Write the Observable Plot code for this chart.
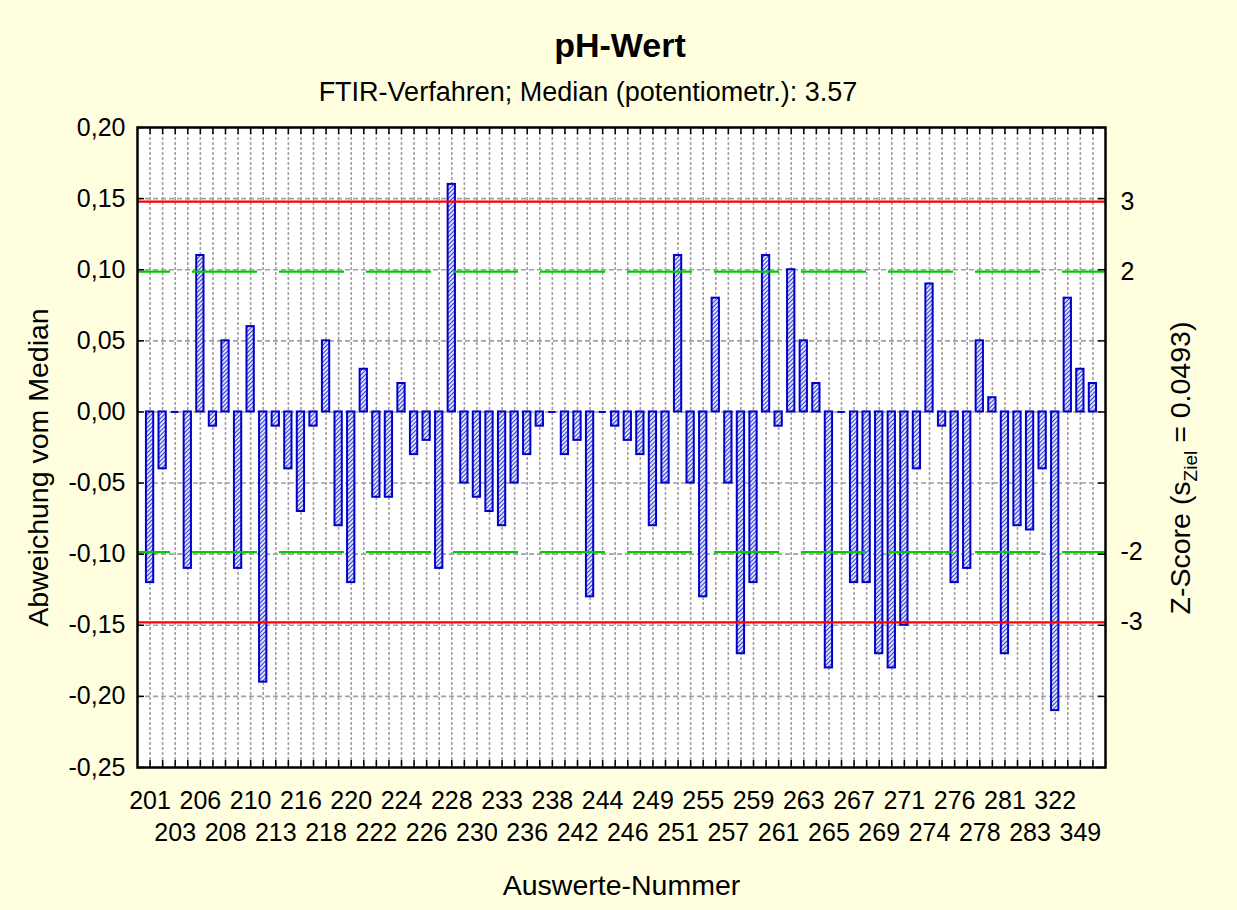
<!DOCTYPE html>
<html><head><meta charset="utf-8">
<script src="https://cdn.jsdelivr.net/npm/d3@7"></script>
<script src="https://cdn.jsdelivr.net/npm/@observablehq/plot@0.6"></script>
<style>
html,body{margin:0;padding:0;background:#ffffe0;}
body{width:1237px;height:910px;overflow:hidden;font-family:"Liberation Sans",Arial,Helvetica,sans-serif;color:#000;}
#head{position:relative;height:110px;}
#title{position:absolute;left:0;width:1240px;text-align:center;top:25px;font-size:34px;font-weight:bold;line-height:40px;}
#sub{position:absolute;left:0;width:1176px;text-align:center;top:76px;font-size:27px;line-height:32px;}
#chart svg{display:block;}
</style></head><body>
<div id="head"><div id="title">pH-Wert</div><div id="sub">FTIR-Verfahren; Median (potentiometr.): 3.57</div></div>
<div id="chart"></div>
<script>
// Auswerte-Nummern (every second one is labelled on the axis)
const ids = ["201","202","203","204","206","207","208","209","210","211",
  "213","214","216","217","218","219","220","221","222","223",
  "224","225","226","227","228","229","230","231","233","234",
  "236","237","238","240","242","243","244","245","246","247",
  "249","250","251","253","255","256","257","258","259","260",
  "261","262","263","264","265","266","267","268","269","270",
  "271","272","274","275","276","277","278","279","281","282",
  "283","285","322","325","349","351"];
// Abweichung vom Median
const values = [-0.12,-0.04,0,-0.11,0.11,-0.01,0.05,-0.11,0.06,-0.19,
  -0.01,-0.04,-0.07,-0.01,0.05,-0.08,-0.12,0.03,-0.06,-0.06,
  0.02,-0.03,-0.02,-0.11,0.16,-0.05,-0.06,-0.07,-0.08,-0.05,
  -0.03,-0.01,0,-0.03,-0.02,-0.13,0,-0.01,-0.02,-0.03,
  -0.08,-0.05,0.11,-0.05,-0.13,0.08,-0.05,-0.17,-0.12,0.11,
  -0.01,0.10,0.05,0.02,-0.18,0,-0.12,-0.12,-0.17,-0.18,
  -0.15,-0.04,0.09,-0.01,-0.12,-0.11,0.05,0.01,-0.17,-0.08,
  -0.083,-0.04,-0.21,0.08,0.03,0.02];
const yTicks = [-0.25,-0.20,-0.15,-0.10,-0.05,0,0.05,0.10,0.15,0.20];
const zTicks = [3,2,-2,-3];
const zLines = [2,-2];
const zLimits = [3,-3];
const sZiel = 0.0493;

const data = ids.map((id,i)=>({id, v: values[i]}));
const topRow = ids.filter((d,i)=> i%4===0);
const bottomRow = ids.filter((d,i)=> i%4===2);

const W=1237, H=800, mL=137, mR=132, mT=17, mB=143;
const pW = W-mL-mR, pH = H-mT-mB;
const fmt = d => d.toFixed(2).replace(".", ",");
const blue = "#0000c8";

const chart = Plot.plot({
  width: W, height: H, marginLeft: mL, marginRight: mR, marginTop: mT, marginBottom: mB,
  style: {background: "transparent", fontFamily: "'Liberation Sans', Arial, Helvetica, sans-serif", fontSize: "25px", color: "black"},
  x: {type: "band", domain: ids, paddingInner: 0.42, paddingOuter: 0.71, round: false},
  y: {domain: [-0.25, 0.20]},
  marks: [
    Plot.frame({fill: "white", stroke: "none"}),
    Plot.ruleX(ids, {x: d=>d, stroke: "#a0a0a0", strokeWidth: 1.6, strokeDasharray: "3,2"}),
    Plot.ruleY(yTicks, {y: d=>d, stroke: "#a0a0a0", strokeWidth: 1.6, strokeDasharray: "5,3"}),
    Plot.barY(data, {x: "id", y: "v", fill: "url(#hatch)", stroke: blue, strokeWidth: 2}),
    Plot.tickY(data.filter(d=>d.v===0), {x: "id", y: "v", stroke: blue, strokeWidth: 2}),
    Plot.ruleY(zLines, {y: d=>d*sZiel, stroke: "#00cc00", strokeWidth: 2.2, strokeDasharray: "65,22", strokeDashoffset: 32}),
    Plot.ruleY(zLimits, {y: d=>d*sZiel, stroke: "#ff0000", strokeWidth: 2.2}),
    Plot.ruleX(ids, {x: d=>d, insetBottom: pH-7, stroke: "black", strokeWidth: 1.5}),
    Plot.ruleX(ids, {x: d=>d, insetTop: pH-7, stroke: "black", strokeWidth: 1.5}),
    Plot.ruleY(yTicks, {y: d=>d, insetRight: pW-7, stroke: "black", strokeWidth: 1.5}),
    Plot.ruleY(yTicks, {y: d=>d, insetLeft: pW-7, stroke: "black", strokeWidth: 1.5}),
    Plot.frame({stroke: "black", strokeWidth: 2.5}),
    Plot.axisY({anchor: "left", ticks: yTicks, tickFormat: fmt, tickSize: 0, tickPadding: 12, label: null}),
    Plot.axisY({anchor: "right", ticks: zTicks.map(z=>z*sZiel), tickFormat: d => String(Math.round(d/sZiel)), tickSize: 0, tickPadding: 15, label: null}),
    Plot.axisX({anchor: "bottom", ticks: topRow, tickSize: 0, tickPadding: 24, label: null}),
    Plot.axisX({anchor: "bottom", ticks: bottomRow, tickSize: 0, tickPadding: 56, label: null}),
    Plot.text(["Auswerte-Nummer"], {frameAnchor: "bottom", dy: 118, lineAnchor: "middle", textAnchor: "middle", fontSize: 28.5}),
    Plot.text(["Abweichung vom Median"], {frameAnchor: "left", dx: -99, dy: 20, rotate: -90, textAnchor: "middle", lineAnchor: "middle", fontSize: 28.5})
  ]
});

const svg = d3.select(chart);
const defs = svg.insert("defs", ":first-child");
const pat = defs.append("pattern").attr("id", "hatch").attr("patternUnits", "userSpaceOnUse")
  .attr("width", 3).attr("height", 3).attr("patternTransform", "rotate(45)");
pat.append("rect").attr("width", 3).attr("height", 3).attr("fill", "white");
pat.append("line").attr("x1", 1.5).attr("y1", 0).attr("x2", 1.5).attr("y2", 3)
  .attr("stroke", "#3040d0").attr("stroke-width", 1.3);

const zl = svg.append("text")
  .attr("transform", `translate(1180, ${468 - 110}) rotate(-90)`)
  .attr("text-anchor", "middle").attr("dy", "0.35em")
  .attr("font-size", 28.5).attr("fill", "black");
zl.append("tspan").text("Z-Score (s");
zl.append("tspan").attr("font-size", 19).attr("dy", 7).text("Ziel");
zl.append("tspan").attr("dy", -7).text(" = 0.0493)");

document.getElementById("chart").appendChild(chart);
</script>
</body></html>
